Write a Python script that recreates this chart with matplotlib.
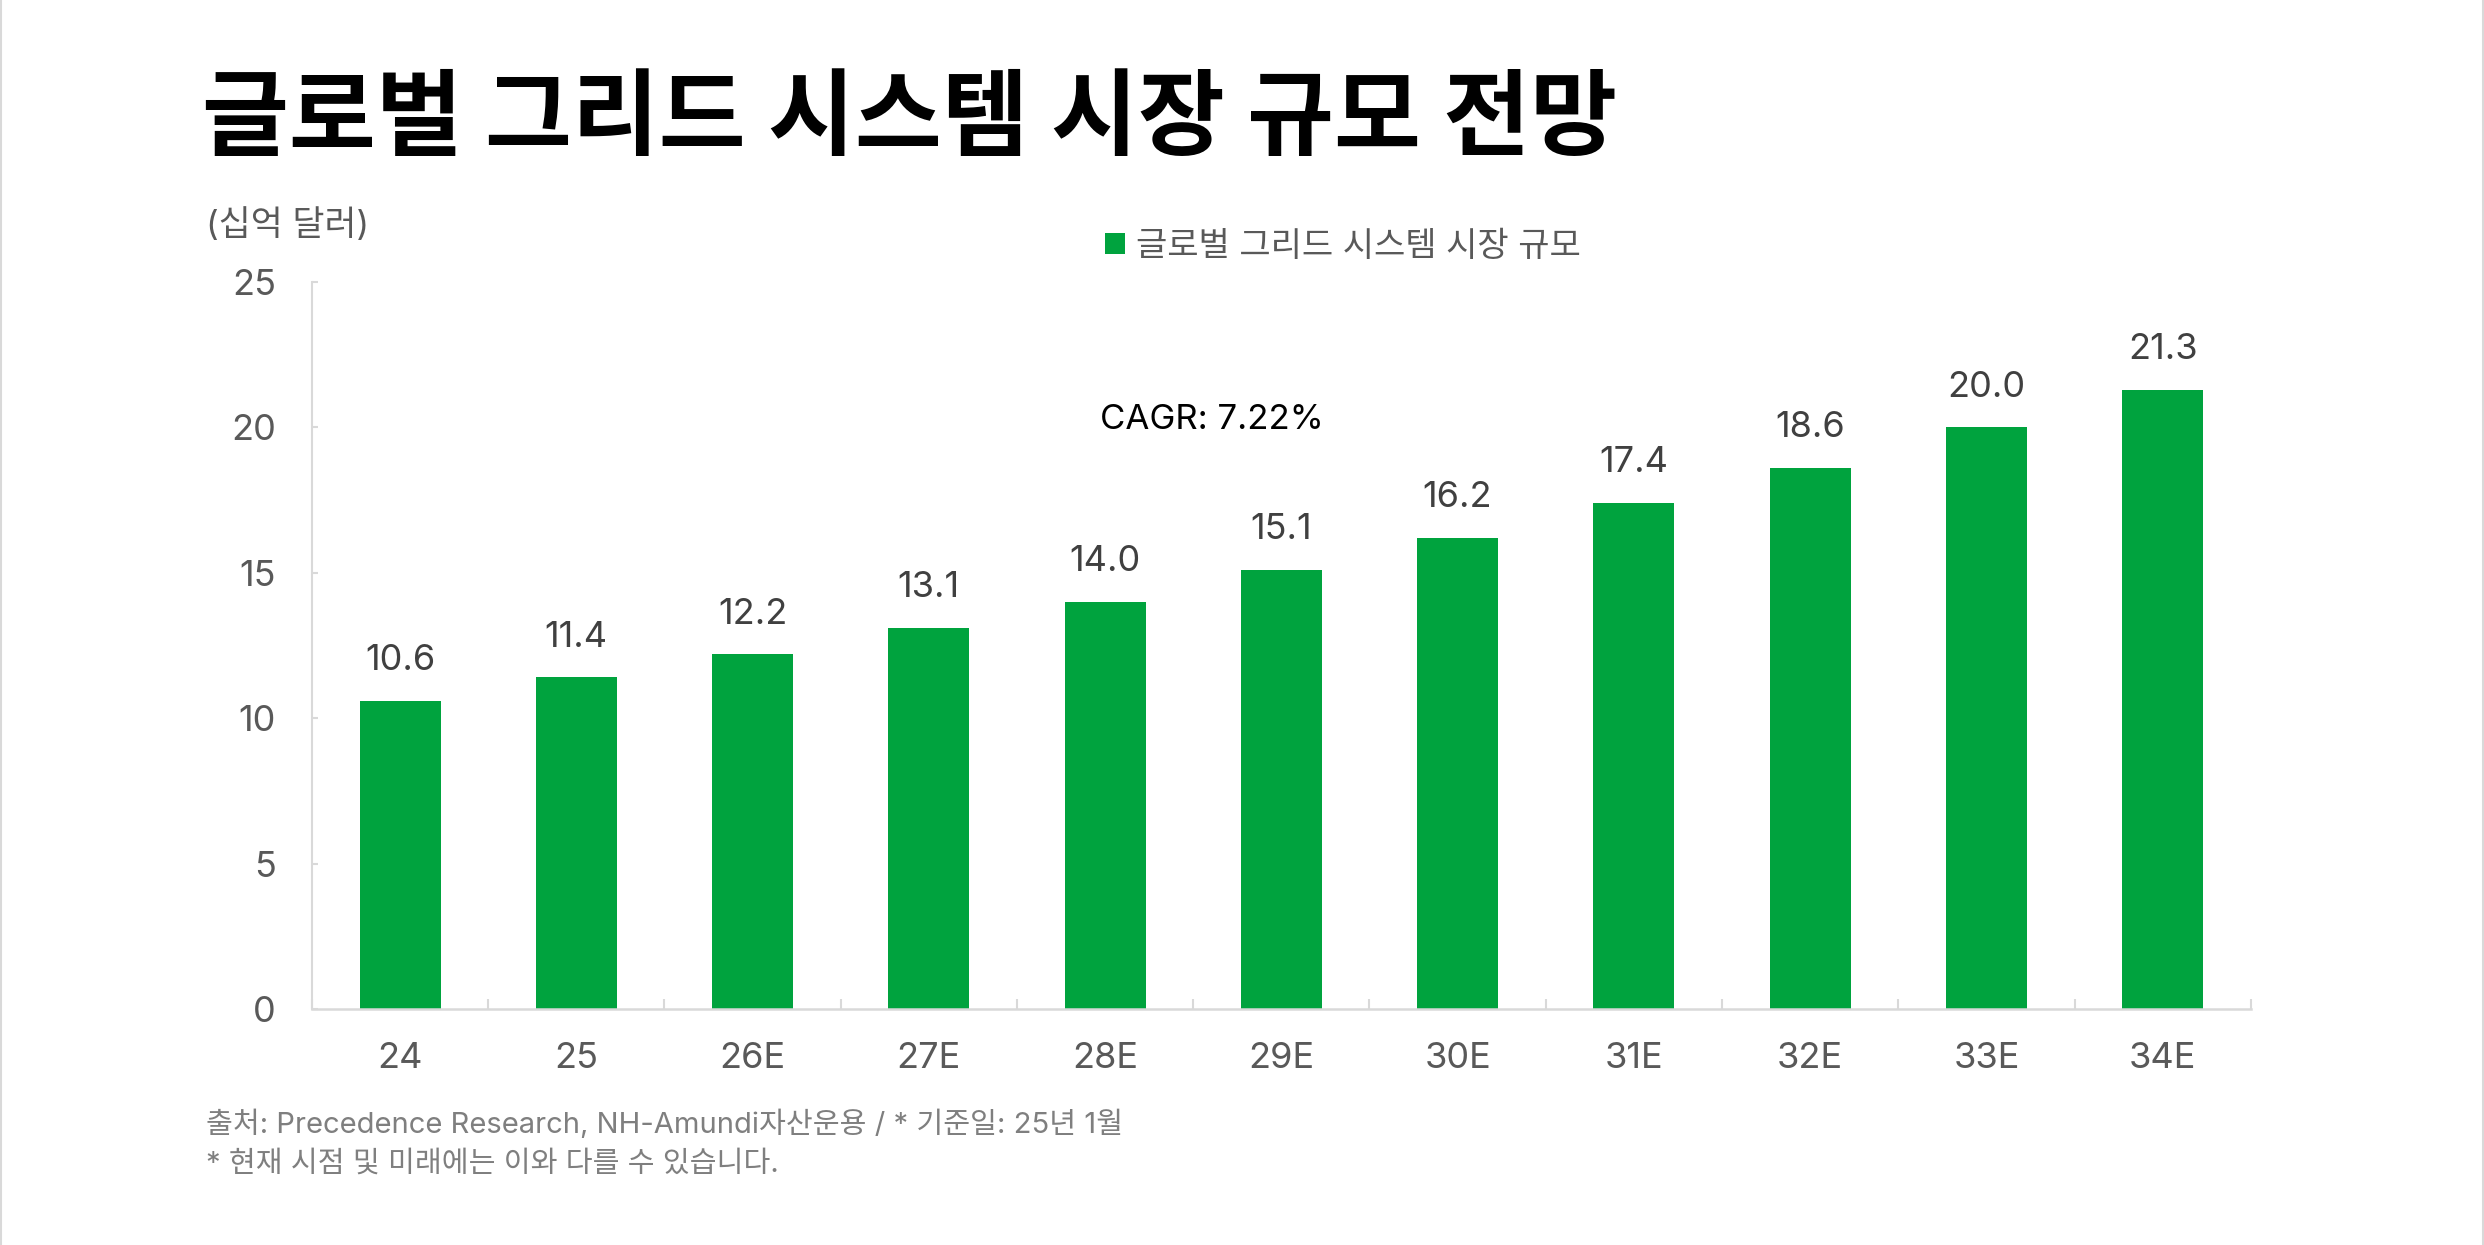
import matplotlib.pyplot as plt
import matplotlib.lines as mlines

plt.rcParams['font.family'] = ['Inter', 'Noto Sans CJK KR', 'DejaVu Sans']

# data
years = ['24', '25', '26E', '27E', '28E', '29E', '30E', '31E', '32E', '33E', '34E']
market_size = [10.6, 11.4, 12.2, 13.1, 14.0, 15.1, 16.2, 17.4, 18.6, 20.0, 21.3]
y_ticks = [0, 5, 10, 15, 20, 25]

green = '#00a33e'
grey_line = '#d9d9d9'
tick_col = '#595959'

fig = plt.figure(figsize=(24.84, 12.45), dpi=100)
ax = fig.add_axes([0.1256, 0.1896, 0.7805, 0.5839])

x = range(len(years))
bars = ax.bar(x, market_size, width=0.46, color=green, label='글로벌 그리드 시스템 시장 규모')

# value labels over bars
for xi, v in zip(x, market_size):
    ax.annotate(f'{v:.1f}', (xi, v), xytext=(0, 17), textcoords='offset points',
                ha='center', va='bottom', fontsize=26, color='#404040')

ax.set_xlim(-0.5, len(years) - 0.5)
ax.set_ylim(0, 25)
ax.set_yticks(y_ticks)
ax.set_xticks(list(x))
ax.set_xticklabels(years)
ax.set_xticks([i + 0.5 for i in range(-1, len(years))], minor=True)

for s in ['top', 'right']:
    ax.spines[s].set_visible(False)
ax.spines['left'].set_color(grey_line)
ax.spines['bottom'].set_color(grey_line)
ax.spines['left'].set_linewidth(1.5)
ax.spines['bottom'].set_linewidth(1.8)

ax.tick_params(axis='y', direction='in', length=4, width=1.5, color=grey_line,
               labelsize=26, labelcolor=tick_col, pad=26)
ax.tick_params(axis='x', which='major', length=0, labelsize=26, labelcolor=tick_col, pad=24)
ax.tick_params(axis='x', which='minor', direction='in', length=7, width=1.5, color=grey_line)

# texts
fig.text(0.0813, 0.901, '글로벌 그리드 시스템 시장 규모 전망', fontsize=68, fontweight='bold',
         color='black', va='center', ha='left')
fig.text(0.083, 0.819, '(십억 달러)', fontsize=25, color=tick_col, va='center', ha='left')
fig.text(0.443, 0.663, 'CAGR: 7.22%', fontsize=25, color='black', va='center', ha='left')
fig.text(0.083, 0.097, '출처: Precedence Research, NH-Amundi자산운용 / * 기준일: 25년 1월',
         fontsize=21, color='#7f7f7f', va='center', ha='left')
fig.text(0.083, 0.065, '* 현재 시점 및 미래에는 이와 다를 수 있습니다.',
         fontsize=21, color='#7f7f7f', va='center', ha='left')

leg = fig.legend(handles=[bars], loc='center left', bbox_to_anchor=(0.438, 0.802),
                 frameon=False, fontsize=24.5, handlelength=0.6, handleheight=0.6,
                 handletextpad=0.3, borderpad=0, labelcolor=tick_col)

# thin frame lines on left and right edges
fig.add_artist(mlines.Line2D([0.0004, 0.0004], [0, 1], color=grey_line, lw=1.5))
fig.add_artist(mlines.Line2D([0.9996, 0.9996], [0, 1], color=grey_line, lw=1.5))

fig.savefig('out.png', dpi=100, facecolor='white')
